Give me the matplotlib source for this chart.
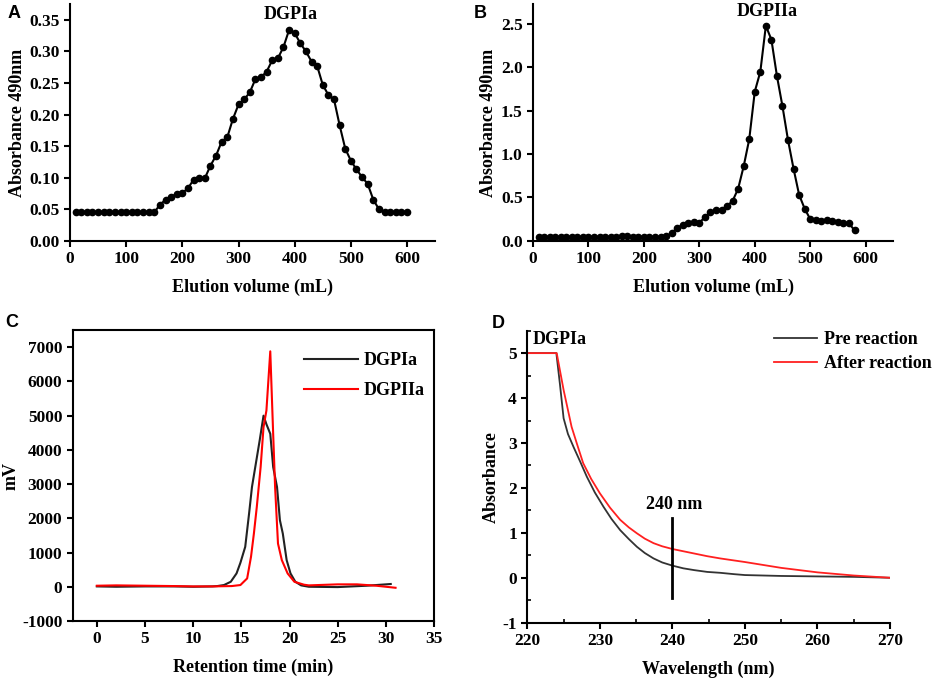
import numpy as np
import matplotlib
matplotlib.use("Agg")
from matplotlib import pyplot as plt
from matplotlib.ticker import FormatStrFormatter, MultipleLocator

plt.rcParams["font.family"] = ["Liberation Serif", "DejaVu Serif"]
plt.rcParams["font.weight"] = "bold"
plt.rcParams["axes.labelweight"] = "bold"
plt.rcParams["axes.unicode_minus"] = False

# A: DGPIa elution profile
vol_a = np.arange(10, 601, 10)
abs_a = [0.045] * 15 + [
    0.057, 0.065, 0.070, 0.074, 0.076, 0.083, 0.097, 0.099, 0.099, 0.119,
    0.135, 0.157, 0.164, 0.193, 0.216, 0.224, 0.235, 0.256, 0.259, 0.268,
    0.286, 0.289, 0.307, 0.334, 0.329, 0.313, 0.300, 0.284, 0.277, 0.247,
    0.231, 0.224, 0.183, 0.146, 0.127, 0.113, 0.101, 0.090, 0.065, 0.050,
] + [0.045] * 5

# B: DGPIIa elution profile
vol_b = np.arange(10, 581, 10)
abs_b = [0.04] * 15 + [
    0.05, 0.06, 0.04, 0.04, 0.04, 0.04, 0.04, 0.04, 0.05, 0.085,
    0.15, 0.18, 0.20, 0.22, 0.21, 0.27, 0.33, 0.35, 0.36, 0.40,
    0.46, 0.60, 0.86, 1.17, 1.72, 1.95, 2.48, 2.32, 1.90, 1.55,
    1.16, 0.83, 0.53, 0.37, 0.25, 0.24, 0.23, 0.235, 0.225, 0.22,
    0.21, 0.20, 0.12,
]

# C: HPGPC chromatograms
t_dgpia = [0, 2, 5, 8, 10, 12, 12.5, 13.2, 13.9, 14.5, 14.9, 15.4, 15.8, 16.1,
           16.5, 16.9, 17.3, 17.6, 18.0, 18.3, 18.7, 19.0, 19.3, 19.7, 20.1,
           20.6, 21.2, 22, 25, 28, 30.5]
mv_dgpia = [10, 0, 10, 10, 0, 10, 20, 50, 146, 390, 700, 1166, 2138, 2915,
            3596, 4276, 5000, 4750, 4470, 3500, 2915, 1944, 1555, 777, 389,
            146, 40, 0, -10, 30, 80]
t_dgpiia = [0, 2, 5, 8, 10, 12, 14, 14.9, 15.6, 16.0, 16.3, 16.6, 17.0, 17.3,
            17.6, 18.0, 18.3, 18.5, 18.8, 19.2, 19.8, 20.5, 21.5, 22, 25, 27,
            29, 31]
mv_dgpiia = [30, 40, 30, 20, 10, 10, 20, 50, 243, 875, 1555, 2330, 3500, 4665,
             5150, 6880, 4470, 2915, 1263, 777, 389, 146, 60, 40, 70, 70, 30,
             -30]

# D: UV spectra
wl_pre = [220, 224, 224.5, 225, 225.6, 226.4, 227.3, 228.2, 229.3, 230.5,
          231.6, 232.8, 234, 235.1, 236.2, 237.4, 238.6, 240, 241.5, 243,
          244.8, 246.6, 248.5, 250, 255, 260, 265, 270]
abs_pre = [5.0, 5.0, 4.3, 3.55, 3.2, 2.9, 2.58, 2.25, 1.9, 1.58,
           1.31, 1.06, 0.86, 0.69, 0.55, 0.43, 0.34, 0.27, 0.21, 0.17,
           0.13, 0.11, 0.08, 0.06, 0.04, 0.03, 0.02, 0.0]
wl_post = [220, 224.05, 225, 226.1, 226.9, 227.7, 228.8, 230, 231.4, 232.8,
           234, 235.1, 236.2, 237.4, 238.6, 240, 241.5, 243, 244.8, 246.6,
           250, 255, 260, 265, 270]
abs_post = [5.0, 5.0, 4.18, 3.36, 2.95, 2.55, 2.2, 1.88, 1.56, 1.29,
            1.12, 0.99, 0.87, 0.77, 0.70, 0.64, 0.59, 0.54, 0.48, 0.43,
            0.35, 0.22, 0.12, 0.05, 0.0]

fig = plt.figure(figsize=(9.41, 6.86), dpi=100)
ax_a = fig.add_axes([0.0744, 0.649, 0.388, 0.345])
ax_b = fig.add_axes([0.5664, 0.649, 0.383, 0.345])
ax_c = fig.add_axes([0.0773, 0.0948, 0.384, 0.424])
ax_d = fig.add_axes([0.5604, 0.0923, 0.3854, 0.4257])

tick_fs = 12.5
label_fs = 13

for ax in (ax_a, ax_b, ax_c, ax_d):
    for s in ax.spines.values():
        s.set_linewidth(1.5)
    ax.tick_params(width=1.5, length=4, labelsize=tick_fs, direction="out")

for ax in (ax_a, ax_b, ax_d):
    ax.spines["top"].set_visible(False)
    ax.spines["right"].set_visible(False)

# A
ax_a.plot(vol_a, abs_a, "-o", color="black", lw=1.5, ms=4.5)
ax_a.set_xlim(0, 650)
ax_a.set_ylim(0, 0.375)
ax_a.set_xticks(np.arange(0, 601, 100))
ax_a.set_yticks(np.arange(0, 0.351, 0.05))
ax_a.yaxis.set_major_formatter(FormatStrFormatter("%.2f"))
ax_a.set_xlabel("Elution volume (mL)", fontsize=label_fs, labelpad=8)
ax_a.set_ylabel("Absorbance 490nm", fontsize=label_fs, labelpad=2)
ax_a.text(393, 0.359, "DGPIa", ha="center", va="center", fontsize=label_fs)

# B
ax_b.plot(vol_b, abs_b, "-o", color="black", lw=1.5, ms=4.5)
ax_b.set_xlim(0, 650)
ax_b.set_ylim(0, 2.73)
ax_b.set_xticks(np.arange(0, 601, 100))
ax_b.set_yticks(np.arange(0, 2.51, 0.5))
ax_b.yaxis.set_major_formatter(FormatStrFormatter("%.1f"))
ax_b.set_xlabel("Elution volume (mL)", fontsize=label_fs, labelpad=8)
ax_b.set_ylabel("Absorbance 490nm", fontsize=label_fs, labelpad=3)
ax_b.text(423, 2.64, "DGPIIa", ha="center", va="center", fontsize=label_fs)

# C
ax_c.plot(t_dgpia, mv_dgpia, color="#222222", lw=1.5, label="DGPIa")
ax_c.plot(t_dgpiia, mv_dgpiia, color="#ff0000", lw=1.5, label="DGPIIa")
ax_c.set_xlim(-2.5, 35)
ax_c.set_ylim(-1000, 7500)
ax_c.set_xticks(np.arange(0, 36, 5))
ax_c.set_yticks(np.arange(-1000, 7001, 1000))
ax_c.set_xlabel("Retention time (min)", fontsize=label_fs, labelpad=8)
ax_c.set_ylabel("mV", fontsize=label_fs, labelpad=2)
ax_c.legend(loc="upper left", frameon=False, fontsize=label_fs,
            handlelength=3.0, handletextpad=0.3, labelspacing=0.75,
            borderaxespad=0, bbox_to_anchor=(0.62, 0.95))

# D
ax_d.plot(wl_pre, abs_pre, color="#333333", lw=1.3, label="Pre reaction")
ax_d.plot(wl_post, abs_post, color="#ff2020", lw=1.3, label="After reaction")
ax_d.plot([240, 240], [-0.46, 1.32], color="black", lw=2)
ax_d.text(240.2, 1.64, "240 nm", ha="center", va="center", fontsize=label_fs)
ax_d.text(220.8, 5.3, "DGPIa", ha="left", va="center", fontsize=label_fs)
ax_d.set_xlim(220, 270)
ax_d.set_ylim(-1, 5.5)
ax_d.set_xticks(np.arange(220, 271, 10))
ax_d.set_yticks(np.arange(-1, 6, 1))
ax_d.xaxis.set_minor_locator(MultipleLocator(5))
ax_d.yaxis.set_minor_locator(MultipleLocator(0.5))
ax_d.tick_params(which="minor", direction="in", length=3, width=1.2)
ax_d.set_xlabel("Wavelength (nm)", fontsize=label_fs, labelpad=8)
ax_d.set_ylabel("Absorbance", fontsize=label_fs, labelpad=2)
ax_d.legend(loc="upper left", frameon=False, fontsize=label_fs,
            handlelength=2.4, handletextpad=0.35, labelspacing=0.37,
            borderaxespad=0, bbox_to_anchor=(0.66, 1.023))

# panel letters
for lab, x, y in [("A", 0.008, 0.980), ("B", 0.503, 0.980),
                  ("C", 0.006, 0.530), ("D", 0.523, 0.528)]:
    fig.text(x, y, lab, fontsize=13, fontweight="bold",
             family="Liberation Sans", ha="left", va="center")

fig.savefig("out.png", dpi=100)
